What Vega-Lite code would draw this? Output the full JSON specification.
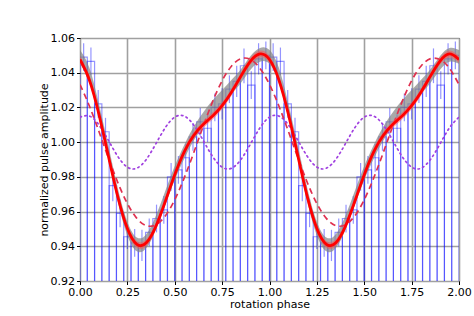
{
 "$schema": "https://vega.github.io/schema/vega-lite/v6.json",
 "width": 379, "height": 243,
 "autosize": {"type": "none"},
 "padding": {"left": 80, "top": 38, "right": 15, "bottom": 35},
 "background": "white",
 "config": {
   "view": {"stroke": "#000", "strokeWidth": 1},
   "font": "DejaVu Sans",
   "axis": {"labelFont": "DejaVu Sans", "titleFont": "DejaVu Sans", "labelFontSize": 11, "titleFontSize": 11, "titleFontWeight": "normal", "labelColor": "#000", "titleColor": "#000", "tickColor": "#000", "domain": false, "gridColor": "#a0a0a0", "gridWidth": 1.6, "gridOpacity": 1, "tickSize": 3.5, "labelPadding": 2, "titlePadding": 1, "labelOverlap": false, "labelFlush": false, "labelBound": false}
 },
 "datasets": {
  "hist": [
   {"x0":0,"x1":0.03846,"c":0.01923,"v":1.049,"lo":1.041,"hi":1.057},
   {"x0":0.03846,"x1":0.07692,"c":0.05769,"v":1.0465,"lo":1.0385,"hi":1.0545},
   {"x0":0.07692,"x1":0.11538,"c":0.09615,"v":1.022,"lo":1.014,"hi":1.030},
   {"x0":0.11538,"x1":0.15385,"c":0.13462,"v":1.006,"lo":0.998,"hi":1.014},
   {"x0":0.15385,"x1":0.19231,"c":0.17308,"v":0.975,"lo":0.966,"hi":0.984},
   {"x0":0.19231,"x1":0.23077,"c":0.21154,"v":0.959,"lo":0.951,"hi":0.967},
   {"x0":0.23077,"x1":0.26923,"c":0.25,"v":0.9455,"lo":0.9385,"hi":0.9525},
   {"x0":0.26923,"x1":0.30769,"c":0.28846,"v":0.942,"lo":0.934,"hi":0.950},
   {"x0":0.30769,"x1":0.34615,"c":0.32692,"v":0.9405,"lo":0.9315,"hi":0.9495},
   {"x0":0.34615,"x1":0.38462,"c":0.36538,"v":0.948,"lo":0.940,"hi":0.956},
   {"x0":0.38462,"x1":0.42308,"c":0.40385,"v":0.956,"lo":0.948,"hi":0.964},
   {"x0":0.42308,"x1":0.46154,"c":0.44231,"v":0.961,"lo":0.953,"hi":0.969},
   {"x0":0.46154,"x1":0.5,"c":0.48077,"v":0.980,"lo":0.972,"hi":0.988},
   {"x0":0.5,"x1":0.53846,"c":0.51923,"v":0.984,"lo":0.976,"hi":0.992},
   {"x0":0.53846,"x1":0.57692,"c":0.55769,"v":0.991,"lo":0.983,"hi":0.999},
   {"x0":0.57692,"x1":0.61538,"c":0.59615,"v":1.003,"lo":0.995,"hi":1.011},
   {"x0":0.61538,"x1":0.65385,"c":0.63462,"v":1.0117,"lo":1.0037,"hi":1.0197},
   {"x0":0.65385,"x1":0.69231,"c":0.67308,"v":1.008,"lo":1.000,"hi":1.016},
   {"x0":0.69231,"x1":0.73077,"c":0.71154,"v":1.020,"lo":1.012,"hi":1.028},
   {"x0":0.73077,"x1":0.76923,"c":0.75,"v":1.022,"lo":1.013,"hi":1.031},
   {"x0":0.76923,"x1":0.80769,"c":0.78846,"v":1.0305,"lo":1.0225,"hi":1.0385},
   {"x0":0.80769,"x1":0.84615,"c":0.82692,"v":1.035,"lo":1.026,"hi":1.044},
   {"x0":0.84615,"x1":0.88462,"c":0.86538,"v":1.044,"lo":1.034,"hi":1.054},
   {"x0":0.88462,"x1":0.92308,"c":0.90385,"v":1.0328,"lo":1.0248,"hi":1.0408},
   {"x0":0.92308,"x1":0.96154,"c":0.94231,"v":1.048,"lo":1.039,"hi":1.057},
   {"x0":0.96154,"x1":1.0,"c":0.98077,"v":1.050,"lo":1.042,"hi":1.058},
   {"x0":1.0,"x1":1.03846,"c":1.01923,"v":1.049,"lo":1.041,"hi":1.057},
   {"x0":1.03846,"x1":1.07692,"c":1.05769,"v":1.0465,"lo":1.0385,"hi":1.0545},
   {"x0":1.07692,"x1":1.11538,"c":1.09615,"v":1.022,"lo":1.014,"hi":1.030},
   {"x0":1.11538,"x1":1.15385,"c":1.13462,"v":1.006,"lo":0.998,"hi":1.014},
   {"x0":1.15385,"x1":1.19231,"c":1.17308,"v":0.975,"lo":0.966,"hi":0.984},
   {"x0":1.19231,"x1":1.23077,"c":1.21154,"v":0.959,"lo":0.951,"hi":0.967},
   {"x0":1.23077,"x1":1.26923,"c":1.25,"v":0.9455,"lo":0.9385,"hi":0.9525},
   {"x0":1.26923,"x1":1.30769,"c":1.28846,"v":0.942,"lo":0.934,"hi":0.950},
   {"x0":1.30769,"x1":1.34615,"c":1.32692,"v":0.9405,"lo":0.9315,"hi":0.9495},
   {"x0":1.34615,"x1":1.38462,"c":1.36538,"v":0.948,"lo":0.940,"hi":0.956},
   {"x0":1.38462,"x1":1.42308,"c":1.40385,"v":0.956,"lo":0.948,"hi":0.964},
   {"x0":1.42308,"x1":1.46154,"c":1.44231,"v":0.961,"lo":0.953,"hi":0.969},
   {"x0":1.46154,"x1":1.5,"c":1.48077,"v":0.980,"lo":0.972,"hi":0.988},
   {"x0":1.5,"x1":1.53846,"c":1.51923,"v":0.984,"lo":0.976,"hi":0.992},
   {"x0":1.53846,"x1":1.57692,"c":1.55769,"v":0.991,"lo":0.983,"hi":0.999},
   {"x0":1.57692,"x1":1.61538,"c":1.59615,"v":1.003,"lo":0.995,"hi":1.011},
   {"x0":1.61538,"x1":1.65385,"c":1.63462,"v":1.0117,"lo":1.0037,"hi":1.0197},
   {"x0":1.65385,"x1":1.69231,"c":1.67308,"v":1.008,"lo":1.000,"hi":1.016},
   {"x0":1.69231,"x1":1.73077,"c":1.71154,"v":1.020,"lo":1.012,"hi":1.028},
   {"x0":1.73077,"x1":1.76923,"c":1.75,"v":1.022,"lo":1.013,"hi":1.031},
   {"x0":1.76923,"x1":1.80769,"c":1.78846,"v":1.0305,"lo":1.0225,"hi":1.0385},
   {"x0":1.80769,"x1":1.84615,"c":1.82692,"v":1.035,"lo":1.026,"hi":1.044},
   {"x0":1.84615,"x1":1.88462,"c":1.86538,"v":1.044,"lo":1.034,"hi":1.054},
   {"x0":1.88462,"x1":1.92308,"c":1.90385,"v":1.0328,"lo":1.0248,"hi":1.0408},
   {"x0":1.92308,"x1":1.96154,"c":1.94231,"v":1.048,"lo":1.039,"hi":1.057},
   {"x0":1.96154,"x1":2.0,"c":1.98077,"v":1.050,"lo":1.042,"hi":1.058}
  ],
  "curves": [
   {"p":0.00,"R":1.0476,"fLo":1.0456,"fHi":1.0496,"gLo":1.0451,"gHi":1.0531,"D":1.0332,"H":1.0144},
   {"p":0.05,"R":1.0357,"fLo":1.0337,"fHi":1.0377,"gLo":1.0347,"gHi":1.0427,"D":1.0207,"H":1.0150},
   {"p":0.10,"R":1.0160,"fLo":1.0140,"fHi":1.0180,"gLo":1.0140,"gHi":1.0220,"D":1.0061,"H":1.0099},
   {"p":0.15,"R":0.9919,"fLo":0.9899,"fHi":0.9939,"gLo":0.9899,"gHi":0.9979,"D":0.9909,"H":1.0010},
   {"p":0.20,"R":0.9683,"fLo":0.9663,"fHi":0.9703,"gLo":0.9653,"gHi":0.9733,"D":0.9766,"H":0.9917},
   {"p":0.25,"R":0.9502,"fLo":0.9482,"fHi":0.9522,"gLo":0.9462,"gHi":0.9542,"D":0.9646,"H":0.9856},
   {"p":0.30,"R":0.9411,"fLo":0.9391,"fHi":0.9431,"gLo":0.9371,"gHi":0.9451,"D":0.9561,"H":0.9850},
   {"p":0.35,"R":0.9420,"fLo":0.9400,"fHi":0.9440,"gLo":0.9390,"gHi":0.9470,"D":0.9519,"H":0.9901},
   {"p":0.40,"R":0.9514,"fLo":0.9494,"fHi":0.9534,"gLo":0.9494,"gHi":0.9574,"D":0.9524,"H":0.9990},
   {"p":0.45,"R":0.9658,"fLo":0.9638,"fHi":0.9678,"gLo":0.9638,"gHi":0.9718,"D":0.9575,"H":1.0083},
   {"p":0.50,"R":0.9812,"fLo":0.9792,"fHi":0.9832,"gLo":0.9782,"gHi":0.9862,"D":0.9668,"H":1.0144},
   {"p":0.55,"R":0.9944,"fLo":0.9924,"fHi":0.9964,"gLo":0.9904,"gHi":0.9984,"D":0.9794,"H":1.0150},
   {"p":0.60,"R":1.0038,"fLo":1.0018,"fHi":1.0058,"gLo":1.0008,"gHi":1.0088,"D":0.9939,"H":1.0099},
   {"p":0.65,"R":1.0101,"fLo":1.0081,"fHi":1.0121,"gLo":1.0091,"gHi":1.0171,"D":1.0091,"H":1.0010},
   {"p":0.70,"R":1.0151,"fLo":1.0131,"fHi":1.0171,"gLo":1.0161,"gHi":1.0241,"D":1.0234,"H":0.9917},
   {"p":0.75,"R":1.0210,"fLo":1.0190,"fHi":1.0230,"gLo":1.0220,"gHi":1.0300,"D":1.0354,"H":0.9856},
   {"p":0.80,"R":1.0289,"fLo":1.0269,"fHi":1.0309,"gLo":1.0279,"gHi":1.0359,"D":1.0439,"H":0.9850},
   {"p":0.85,"R":1.0382,"fLo":1.0362,"fHi":1.0402,"gLo":1.0342,"gHi":1.0422,"D":1.0481,"H":0.9901},
   {"p":0.90,"R":1.0467,"fLo":1.0447,"fHi":1.0487,"gLo":1.0417,"gHi":1.0497,"D":1.0476,"H":0.9990},
   {"p":0.95,"R":1.0508,"fLo":1.0488,"fHi":1.0528,"gLo":1.0463,"gHi":1.0543,"D":1.0425,"H":1.0083},
   {"p":1.00,"R":1.0476,"fLo":1.0456,"fHi":1.0496,"gLo":1.0451,"gHi":1.0531,"D":1.0332,"H":1.0144},
   {"p":1.05,"R":1.0357,"fLo":1.0337,"fHi":1.0377,"gLo":1.0347,"gHi":1.0427,"D":1.0207,"H":1.0150},
   {"p":1.10,"R":1.0160,"fLo":1.0140,"fHi":1.0180,"gLo":1.0140,"gHi":1.0220,"D":1.0061,"H":1.0099},
   {"p":1.15,"R":0.9919,"fLo":0.9899,"fHi":0.9939,"gLo":0.9899,"gHi":0.9979,"D":0.9909,"H":1.0010},
   {"p":1.20,"R":0.9683,"fLo":0.9663,"fHi":0.9703,"gLo":0.9653,"gHi":0.9733,"D":0.9766,"H":0.9917},
   {"p":1.25,"R":0.9502,"fLo":0.9482,"fHi":0.9522,"gLo":0.9462,"gHi":0.9542,"D":0.9646,"H":0.9856},
   {"p":1.30,"R":0.9411,"fLo":0.9391,"fHi":0.9431,"gLo":0.9371,"gHi":0.9451,"D":0.9561,"H":0.9850},
   {"p":1.35,"R":0.9420,"fLo":0.9400,"fHi":0.9440,"gLo":0.9390,"gHi":0.9470,"D":0.9519,"H":0.9901},
   {"p":1.40,"R":0.9514,"fLo":0.9494,"fHi":0.9534,"gLo":0.9494,"gHi":0.9574,"D":0.9524,"H":0.9990},
   {"p":1.45,"R":0.9658,"fLo":0.9638,"fHi":0.9678,"gLo":0.9638,"gHi":0.9718,"D":0.9575,"H":1.0083},
   {"p":1.50,"R":0.9812,"fLo":0.9792,"fHi":0.9832,"gLo":0.9782,"gHi":0.9862,"D":0.9668,"H":1.0144},
   {"p":1.55,"R":0.9944,"fLo":0.9924,"fHi":0.9964,"gLo":0.9904,"gHi":0.9984,"D":0.9794,"H":1.0150},
   {"p":1.60,"R":1.0038,"fLo":1.0018,"fHi":1.0058,"gLo":1.0008,"gHi":1.0088,"D":0.9939,"H":1.0099},
   {"p":1.65,"R":1.0101,"fLo":1.0081,"fHi":1.0121,"gLo":1.0091,"gHi":1.0171,"D":1.0091,"H":1.0010},
   {"p":1.70,"R":1.0151,"fLo":1.0131,"fHi":1.0171,"gLo":1.0161,"gHi":1.0241,"D":1.0234,"H":0.9917},
   {"p":1.75,"R":1.0210,"fLo":1.0190,"fHi":1.0230,"gLo":1.0220,"gHi":1.0300,"D":1.0354,"H":0.9856},
   {"p":1.80,"R":1.0289,"fLo":1.0269,"fHi":1.0309,"gLo":1.0279,"gHi":1.0359,"D":1.0439,"H":0.9850},
   {"p":1.85,"R":1.0382,"fLo":1.0362,"fHi":1.0402,"gLo":1.0342,"gHi":1.0422,"D":1.0481,"H":0.9901},
   {"p":1.90,"R":1.0467,"fLo":1.0447,"fHi":1.0487,"gLo":1.0417,"gHi":1.0497,"D":1.0476,"H":0.9990},
   {"p":1.95,"R":1.0508,"fLo":1.0488,"fHi":1.0528,"gLo":1.0463,"gHi":1.0543,"D":1.0425,"H":1.0083},
   {"p":2.00,"R":1.0476,"fLo":1.0456,"fHi":1.0496,"gLo":1.0451,"gHi":1.0531,"D":1.0332,"H":1.0144}
  ]
 },
 "layer": [
  {
   "data": {"name": "hist"},
   "mark": {"type": "bar", "filled": false, "stroke": "blue", "strokeOpacity": 0.42, "strokeWidth": 1.2, "clip": true},
   "encoding": {
    "x": {"field": "x0", "type": "quantitative", "title": "rotation phase",
          "scale": {"domain": [0, 2], "nice": false},
          "axis": {"values": [0, 0.25, 0.5, 0.75, 1, 1.25, 1.5, 1.75, 2], "tickCount": 20, "format": ".2f", "grid": true}},
    "x2": {"field": "x1"},
    "y": {"field": "v", "type": "quantitative", "title": "normalized pulse amplitude",
          "scale": {"domain": [0.92, 1.06], "nice": false, "zero": false},
          "axis": {"values": [0.92, 0.94, 0.96, 0.98, 1.0, 1.02, 1.04, 1.06], "tickCount": 20, "format": ".2f", "grid": true}},
    "y2": {"datum": 0.9}
   }
  },
  {
   "data": {"name": "hist"},
   "mark": {"type": "rule", "color": "blue", "opacity": 0.42, "strokeWidth": 1.2, "clip": true},
   "encoding": {
    "x": {"field": "c", "type": "quantitative", "title": "rotation phase"},
    "y": {"field": "lo", "type": "quantitative", "title": "normalized pulse amplitude"},
    "y2": {"field": "hi"}
   }
  },
  {
   "data": {"name": "curves"},
   "mark": {"type": "area", "color": "#858585", "opacity": 0.7, "interpolate": "natural", "clip": true},
   "encoding": {
    "x": {"field": "p", "type": "quantitative", "title": "rotation phase"},
    "y": {"field": "gLo", "type": "quantitative", "title": "normalized pulse amplitude"},
    "y2": {"field": "gHi"}
   }
  },
  {
   "data": {"name": "curves"},
   "mark": {"type": "line", "color": "#a040e0", "strokeWidth": 1.7, "strokeDash": [1.5, 3.5], "strokeCap": "round", "interpolate": "natural", "clip": true},
   "encoding": {
    "x": {"field": "p", "type": "quantitative", "title": "rotation phase"},
    "y": {"field": "H", "type": "quantitative", "title": "normalized pulse amplitude"}
   }
  },
  {
   "data": {"name": "curves"},
   "mark": {"type": "line", "color": "#e0304f", "strokeWidth": 1.7, "strokeDash": [6, 4], "interpolate": "natural", "clip": true},
   "encoding": {
    "x": {"field": "p", "type": "quantitative", "title": "rotation phase"},
    "y": {"field": "D", "type": "quantitative", "title": "normalized pulse amplitude"}
   }
  },
  {
   "data": {"name": "curves"},
   "mark": {"type": "area", "color": "#ff5050", "opacity": 0.5, "interpolate": "natural", "clip": true},
   "encoding": {
    "x": {"field": "p", "type": "quantitative", "title": "rotation phase"},
    "y": {"field": "fLo", "type": "quantitative", "title": "normalized pulse amplitude"},
    "y2": {"field": "fHi"}
   }
  },
  {
   "data": {"name": "curves"},
   "mark": {"type": "line", "color": "red", "strokeWidth": 2.8, "interpolate": "natural", "clip": true},
   "encoding": {
    "x": {"field": "p", "type": "quantitative", "title": "rotation phase"},
    "y": {"field": "R", "type": "quantitative", "title": "normalized pulse amplitude"}
   }
  }
 ]
}
